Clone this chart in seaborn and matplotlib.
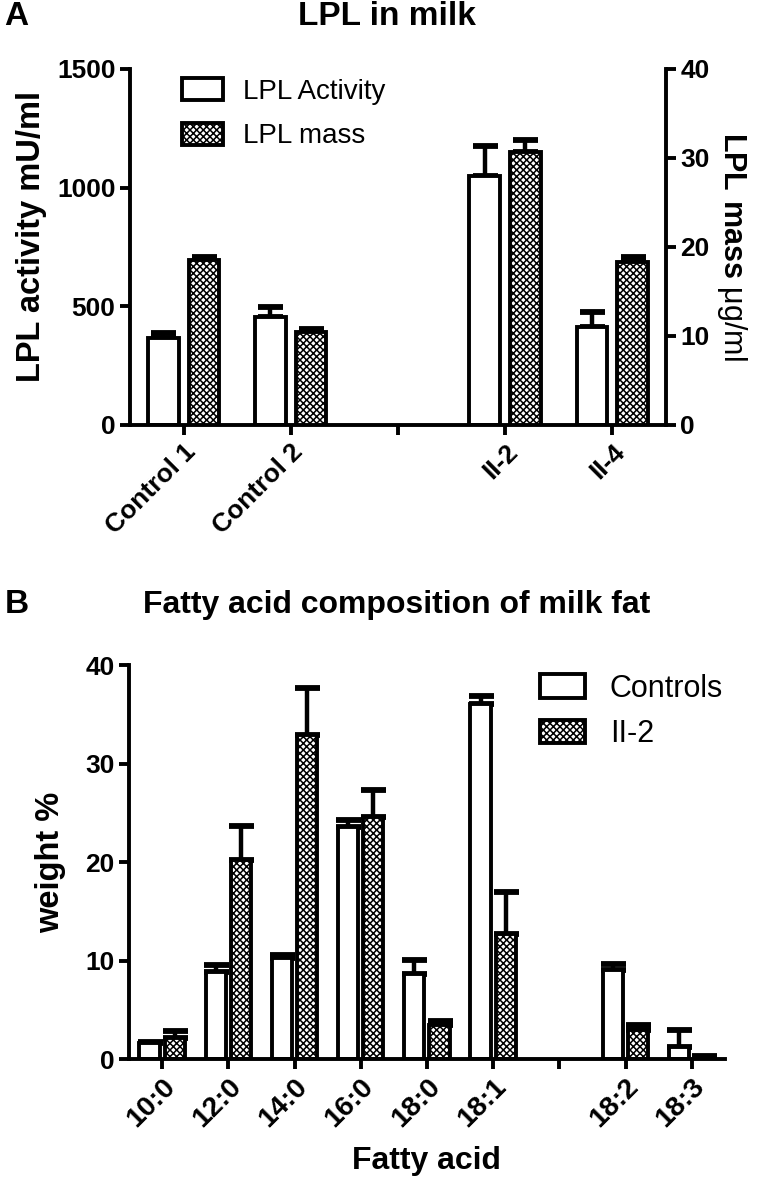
import numpy as np
import pandas as pd
import seaborn as sns
import matplotlib.pyplot as plt
import matplotlib.patches as mpatches
from matplotlib.container import BarContainer

# panel A: LPL in milk
groups = ['Control 1', 'Control 2', 'II-2', 'II-4']
group_order = ['Control 1', 'Control 2', ' ', 'II-2', 'II-4']
activity = [368, 455, 1049, 413]
activity_err = [20, 42, 127, 63]
mass = [18.5, 10.4, 30.7, 18.3]
mass_err = [0.4, 0.4, 1.3, 0.6]

# panel B: fatty acid composition
acids = ['10:0', '12:0', '14:0', '16:0', '18:0', '18:1', '18:2', '18:3']
acid_order = ['10:0', '12:0', '14:0', '16:0', '18:0', '18:1', '', '18:2', '18:3']
controls = [1.65, 8.8, 10.3, 23.6, 8.6, 36.1, 9.0, 1.2]
controls_err = [0.1, 0.8, 0.3, 0.7, 1.5, 0.8, 0.7, 1.8]
ii2 = [2.15, 20.2, 32.9, 24.6, 3.45, 12.7, 2.95, 0.25]
ii2_err = [0.7, 3.5, 4.8, 2.7, 0.45, 4.3, 0.55, 0.05]

sns.set_style('ticks')
plt.rcParams['font.family'] = ['Liberation Sans', 'DejaVu Sans']
plt.rcParams['mathtext.fontset'] = 'custom'
plt.rcParams['mathtext.bf'] = 'Liberation Sans:bold'
plt.rcParams['mathtext.rm'] = 'Liberation Sans'
plt.rcParams['hatch.linewidth'] = 1.1
for k in ['text.color', 'axes.labelcolor', 'xtick.color', 'ytick.color', 'axes.edgecolor']:
    plt.rcParams[k] = 'black'

LW = 2.8
HATCH = 'xxxxx'
tick_kw = dict(direction='out', length=7, width=LW, labelsize=19)


def style_axis(ax):
    ax.tick_params(**tick_kw)
    for lab in ax.get_xticklabels() + ax.get_yticklabels():
        lab.set_fontweight('bold')
    for sp in ax.spines.values():
        sp.set_linewidth(LW)


def add_errors(ax, order, errs):
    # upper error bars on the bars seaborn drew
    bars = [c for c in ax.containers if isinstance(c, BarContainer)]
    for cont in bars:
        for bar in cont:
            h = bar.get_height()
            if np.isnan(h):
                continue
            xc = bar.get_x() + bar.get_width() / 2
            name = order[int(round(xc))]
            if name not in errs:
                continue
            ax.errorbar(xc, h, yerr=[[0], [errs[name]]], fmt='none', ecolor='black',
                        elinewidth=LW + 0.4, capsize=9, capthick=LW + 1.4, zorder=1)


fig = plt.figure(figsize=(7.59, 11.9), dpi=100)

# ---- panel A ----
ax = fig.add_axes([0.1713, 0.6429, 0.706, 0.2992])
ax2 = ax.twinx()
levels = ['LPL Activity', 'LPL mass']
pal = {'LPL Activity': 'white', 'LPL mass': 'white'}
df_act = pd.DataFrame({'group': groups, 'series': 'LPL Activity', 'value': activity})
df_mass = pd.DataFrame({'group': groups, 'series': 'LPL mass', 'value': mass})

sns.barplot(data=df_act, x='group', y='value', hue='series', hue_order=levels, order=group_order,
            palette=pal, edgecolor='black', linewidth=LW, width=0.76, gap=0.25, dodge=True,
            legend=False, ax=ax, zorder=2)
sns.barplot(data=df_mass, x='group', y='value', hue='series', hue_order=levels, order=group_order,
            palette=pal, edgecolor='black', linewidth=LW, width=0.76, gap=0.25, dodge=True,
            legend=False, ax=ax2, zorder=2)
for bar in ax2.patches:
    bar.set_hatch(HATCH)

add_errors(ax, group_order, dict(zip(groups, activity_err)))
add_errors(ax2, group_order, dict(zip(groups, mass_err)))

ax.set_ylim(0, 1500)
ax.set_yticks([0, 500, 1000, 1500])
ax2.set_ylim(0, 40)
ax2.set_yticks([0, 10, 20, 30, 40])
ax.set_xlim(-0.5, 4.5)
ax2.set_xlim(-0.5, 4.5)
ax.set_xlabel('')
ax2.set_xlabel('')
ax.set_xticks(range(len(group_order)))
ax.set_xticklabels(group_order, rotation=45, ha='right', rotation_mode='anchor')
ax.set_ylabel('LPL activity mU/ml', fontsize=23.5, fontweight='bold')
ax.yaxis.set_label_coords(-0.155, 0.53)
ax2.set_ylabel(r'$\mathbf{LPL\ mass}$ μg/ml', fontsize=22, rotation=270, labelpad=28)
ax.spines['top'].set_visible(False)
ax.spines['right'].set_visible(False)
ax2.spines['top'].set_visible(False)
ax2.spines['left'].set_visible(False)
ax2.spines['bottom'].set_visible(False)
style_axis(ax)
style_axis(ax2)

hA = [mpatches.Patch(facecolor='white', edgecolor='black', linewidth=LW, label='LPL Activity'),
      mpatches.Patch(facecolor='white', edgecolor='black', linewidth=LW, hatch=HATCH, label='LPL mass')]
ax2.legend(handles=hA, loc='upper left', bbox_to_anchor=(0.05, 1.045), frameon=False,
           fontsize=20, handlelength=1.5, handleheight=0.85, handletextpad=0.7, labelspacing=0.65)

fig.text(0.51, 0.986, 'LPL in milk', ha='center', va='center', fontsize=24, fontweight='bold')
fig.text(0.006, 0.986, 'A', ha='left', va='center', fontsize=24, fontweight='bold')

# ---- panel B ----
bx = fig.add_axes([0.170, 0.110, 0.785, 0.331])
df_fa = pd.concat([
    pd.DataFrame({'acid': acids, 'group': 'Controls', 'value': controls}),
    pd.DataFrame({'acid': acids, 'group': 'II-2', 'value': ii2}),
])
sns.barplot(data=df_fa, x='acid', y='value', hue='group', order=acid_order,
            palette={'Controls': 'white', 'II-2': 'white'}, edgecolor='black', linewidth=LW,
            width=0.76, gap=0.2, dodge=True, legend=False, ax=bx, zorder=2)
for bar in bx.containers[1]:
    bar.set_hatch(HATCH)

add_errors_b = [dict(zip(acids, controls_err)), dict(zip(acids, ii2_err))]
bar_conts = [c for c in bx.containers if isinstance(c, BarContainer)]
for cont, errs in zip(bar_conts, add_errors_b):
    for bar in cont:
        h = bar.get_height()
        xc = bar.get_x() + bar.get_width() / 2
        name = acid_order[int(round(xc))]
        bx.errorbar(xc, h, yerr=[[0], [errs[name]]], fmt='none', ecolor='black',
                    elinewidth=LW + 0.4, capsize=9, capthick=LW + 1.4, zorder=1)

bx.set_ylim(0, 40)
bx.set_yticks([0, 10, 20, 30, 40])
bx.set_xlim(-0.5, 8.5)
bx.set_xticks(range(len(acid_order)))
bx.set_xticklabels(acid_order, rotation=45, ha='right', rotation_mode='anchor')
bx.set_xlabel('Fatty acid', fontsize=23, fontweight='bold', labelpad=10)
bx.set_ylabel('weight %', fontsize=23.5, fontweight='bold', labelpad=14)
bx.spines['top'].set_visible(False)
bx.spines['right'].set_visible(False)
style_axis(bx)
bx.tick_params(axis='x', labelsize=20.5)

hB = [mpatches.Patch(facecolor='white', edgecolor='black', linewidth=LW, label='Controls'),
      mpatches.Patch(facecolor='white', edgecolor='black', linewidth=LW, hatch=HATCH, label='II-2')]
bx.legend(handles=hB, loc='upper left', bbox_to_anchor=(0.643, 1.048), frameon=False,
          fontsize=22, handlelength=1.5, handleheight=0.8, handletextpad=0.8, labelspacing=0.5)

fig.text(0.523, 0.492, 'Fatty acid composition of milk fat', ha='center', va='center',
         fontsize=23, fontweight='bold')
fig.text(0.006, 0.492, 'B', ha='left', va='center', fontsize=24, fontweight='bold')

fig.savefig('out.png', dpi=100)
